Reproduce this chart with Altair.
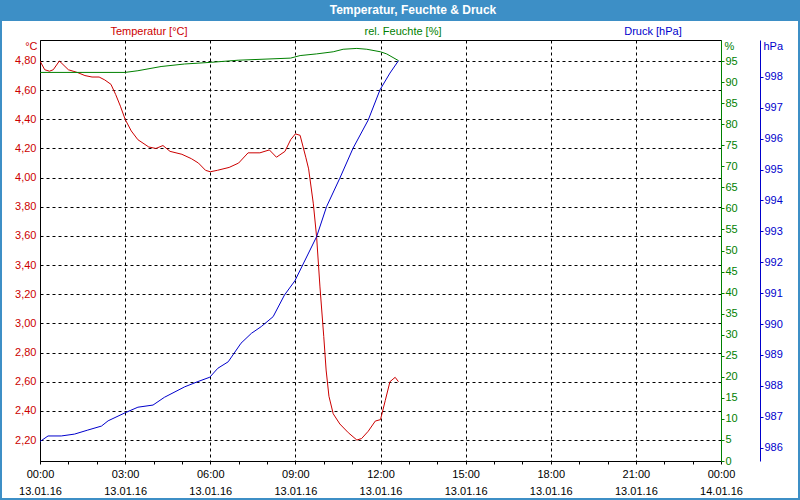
import altair as alt
import pandas as pd

# ---------------- data ----------------
temp_time = ["00:00", "00:10", "00:20", "00:28", "00:41", "01:00", "01:10", "01:20", "01:35", "01:50",
             "02:05", "02:17", "02:30", "02:40", "02:50", "03:00", "03:13", "03:27", "03:50", "04:05",
             "04:20", "04:35", "05:00", "05:20", "05:35", "05:50", "06:00", "06:15", "06:40", "07:00",
             "07:20", "07:45", "08:05", "08:20", "08:38", "08:50", "09:00", "09:10", "09:22", "09:28",
             "09:38", "09:45", "09:52", "10:00", "10:05", "10:11", "10:20", "10:34", "10:52", "11:10",
             "11:20", "11:34", "11:49", "12:00", "12:10", "12:20", "12:31", "12:38"]
temp_val = [4.80, 4.74, 4.73, 4.74, 4.80, 4.74, 4.73, 4.72, 4.70, 4.69,
            4.69, 4.67, 4.64, 4.57, 4.49, 4.40, 4.32, 4.26, 4.21, 4.20,
            4.22, 4.18, 4.16, 4.13, 4.10, 4.05, 4.04, 4.05, 4.07, 4.10,
            4.17, 4.17, 4.19, 4.14, 4.18, 4.26, 4.30, 4.29, 4.14, 4.06,
            3.82, 3.59, 3.25, 2.91, 2.68, 2.50, 2.38, 2.31, 2.25, 2.20,
            2.21, 2.26, 2.33, 2.34, 2.47, 2.60, 2.63, 2.60]

hum_time = ["00:00", "03:00", "03:27", "04:16", "05:06", "06:02", "06:59", "08:50", "09:10", "09:45",
            "10:20", "10:41", "11:10", "11:31", "12:00", "12:13", "12:38"]
hum_val = [92.3, 92.3, 92.7, 93.7, 94.3, 94.7, 95.2, 95.7, 96.3, 96.7,
           97.2, 97.8, 98.0, 97.8, 97.2, 96.7, 95.1]

pres_time = ["00:00", "00:17", "00:45", "01:13", "01:41", "02:10", "02:24", "03:00", "03:27", "03:59",
             "04:23", "05:06", "05:34", "05:59", "06:16", "06:38", "07:05", "07:27", "07:48", "08:13",
             "08:37", "08:59", "09:45", "10:06", "10:34", "11:02", "11:34", "11:59", "12:20", "12:38"]
pres_val = [986.20, 986.38, 986.38, 986.44, 986.57, 986.70, 986.87, 987.13, 987.31, 987.38,
            987.63, 987.97, 988.14, 988.28, 988.57, 988.78, 989.38, 989.70, 989.92, 990.24,
            990.94, 991.40, 992.83, 993.80, 994.72, 995.69, 996.60, 997.58, 998.12, 998.52]

temp_ticks = [2.2, 2.4, 2.6, 2.8, 3.0, 3.2, 3.4, 3.6, 3.8, 4.0, 4.2, 4.4, 4.6, 4.8]
hum_ticks = list(range(0, 100, 5))
pres_ticks = list(range(986, 999))
hour_ticks = list(range(0, 25))

DAY = "2016-01-13T"

def frame(times, vals):
    return pd.DataFrame({"t": [DAY + s for s in times], "v": vals})

df_t = frame(temp_time, temp_val)
df_h = frame(hum_time, hum_val)
df_p = frame(pres_time, pres_val)

RED = "#cc0000"
GREEN = "#008000"
BLUE = "#0000cc"
BAR = "#3d8fc6"
FONT = "Liberation Sans"

W, H = 681, 421

def dt(h):
    return alt.DateTime(year=2016, month=1, date=13 + h // 24, hours=h % 24)

x_domain = [dt(0), dt(24)]
x_values = [dt(h) for h in hour_ticks]

x_axis = alt.Axis(
    values=x_values,
    labelExpr="hours(datum.value) % 3 == 0 ? [timeFormat(datum.value, '%H:%M'), timeFormat(datum.value, '%d.%m.%y')] : ''",
    labelLineHeight=17, labelFont=FONT, labelFontSize=11, labelColor="black",
    labelOverlap=False, labelFlush=False, labelPadding=4,
    tickSize=3, tickColor="black", domainColor="black",
    grid=True, gridColor="black", gridDash=[3, 3],
    gridOpacity={"condition": {"test": "hours(datum.value) % 3 == 0 && hours(datum.value) != 0", "value": 1}, "value": 0},
    title=None,
)

def xenc():
    return alt.X("t:T", scale=alt.Scale(domain=x_domain), axis=x_axis)

temp = alt.Chart(df_t).mark_line(color=RED, strokeWidth=1, clip=True).encode(
    x=xenc(),
    y=alt.Y("v:Q", scale=alt.Scale(domain=[2.056, 4.944], nice=False, zero=False),
            axis=alt.Axis(values=temp_ticks, orient="left",
                          labelExpr="replace(format(datum.value, '.2f'), '.', ',')",
                          labelColor=RED, labelFont=FONT, labelFontSize=11, labelPadding=4,
                          ticks=False, domainColor="black",
                          grid=True, gridColor="black", gridDash=[3, 3], gridOpacity=1,
                          title="°C", titleAngle=0, titleColor=RED, titleFont=FONT,
                          titleFontSize=11, titleFontWeight="normal", titleAlign="right",
                          titleBaseline="middle", titleX=-3, titleY=6)),
)

hum = alt.Chart(df_h).mark_line(color=GREEN, strokeWidth=1, clip=True).encode(
    x=xenc(),
    y=alt.Y("v:Q", scale=alt.Scale(domain=[0, 100], nice=False),
            axis=alt.Axis(values=hum_ticks, orient="right", zindex=1,
                          labelColor=GREEN, labelFont=FONT, labelFontSize=11, labelPadding=1,
                          tickSize=3, tickColor=GREEN, domainColor=GREEN, grid=False,
                          title="%", titleAngle=0, titleColor=GREEN, titleFont=FONT,
                          titleFontSize=11, titleFontWeight="normal", titleAlign="left",
                          titleBaseline="middle", titleX=3, titleY=6)),
)

pres = alt.Chart(df_p).mark_line(color=BLUE, strokeWidth=1, clip=True).encode(
    x=xenc(),
    y=alt.Y("v:Q", scale=alt.Scale(domain=[985.57, 999.19], nice=False, zero=False),
            axis=alt.Axis(values=pres_ticks, orient="right", offset=39, zindex=1,
                          labelColor=BLUE, labelFont=FONT, labelFontSize=11, labelPadding=1,
                          tickSize=3, tickColor=BLUE, domainColor=BLUE, grid=False,
                          title="hPa", titleAngle=0, titleColor=BLUE, titleFont=FONT,
                          titleFontSize=11, titleFontWeight="normal", titleAlign="left",
                          titleBaseline="middle", titleX=3, titleY=6)),
)

one = pd.DataFrame({"k": [0]})

bar = alt.Chart(one).mark_rect(color=BAR).encode(
    x=alt.value(-40), x2=alt.value(760), y=alt.value(-40), y2=alt.value(-19))
border = alt.Chart(one).mark_rect(fill=None, stroke=BAR, strokeWidth=2).encode(
    x=alt.value(-39), x2=alt.value(759), y=alt.value(-39), y2=alt.value(459))
title = alt.Chart(one).mark_text(color="white", font=FONT, fontSize=12, fontWeight="bold",
                                 align="center", baseline="middle").encode(
    x=alt.value(373), y=alt.value(-30), text=alt.value("Temperatur, Feuchte & Druck"))

def heading(txt, xpos, col):
    return alt.Chart(one).mark_text(color=col, font=FONT, fontSize=11, align="center",
                                    baseline="middle").encode(
        x=alt.value(xpos), y=alt.value(-8), text=alt.value(txt))

h1 = heading("Temperatur [°C]", 109, RED)
h2 = heading("rel. Feuchte [%]", 363, GREEN)
h3 = heading("Druck [hPa]", 613, BLUE)

chart = alt.layer(temp, hum, pres, bar, border, title, h1, h2, h3).resolve_scale(
    y="independent"
).properties(
    width=W, height=H,
    autosize=alt.AutoSizeParams(type="none"),
    padding={"left": 40, "top": 40, "right": 79, "bottom": 39},
    background="white",
).configure_view(stroke="black", strokeWidth=1)

chart.save("out.html", embed_options={"renderer": "svg", "actions": False})
